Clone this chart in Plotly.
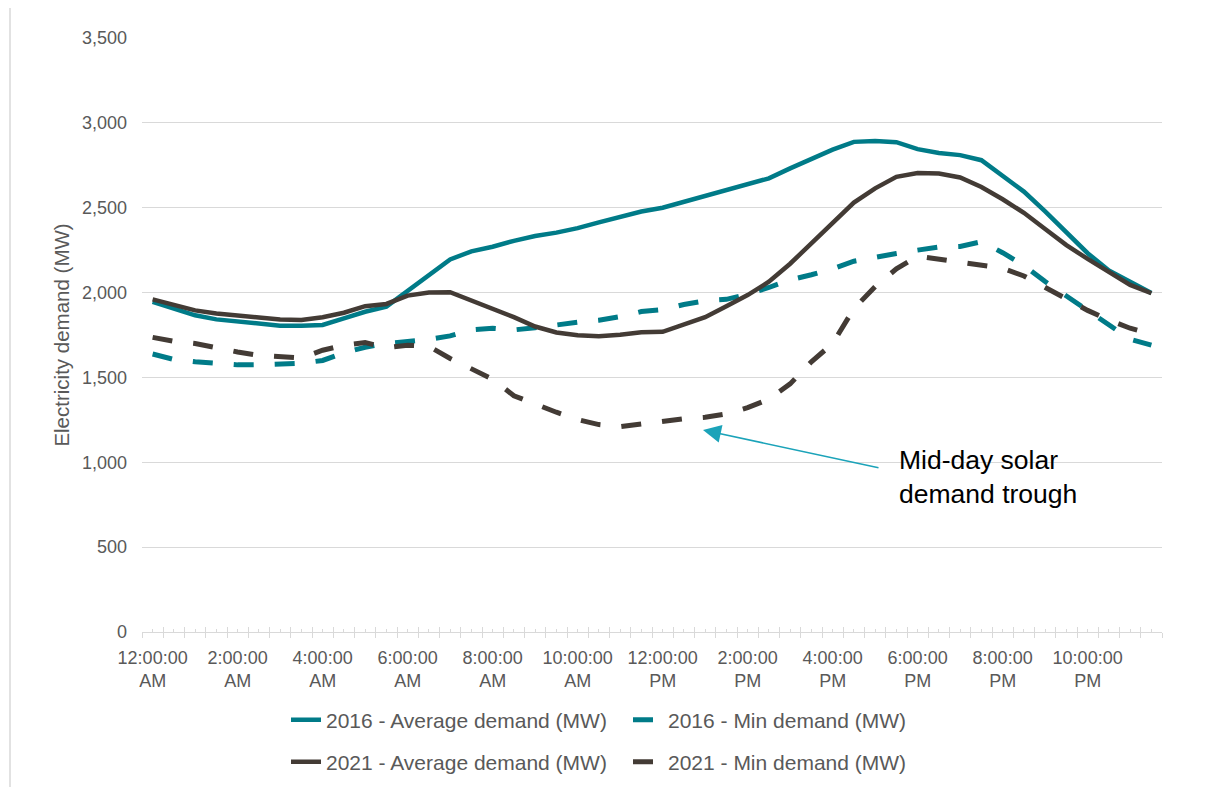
import plotly.graph_objects as go

# Half-hourly categories (48 intervals)
times = [f"{(h % 12) or 12}:{m:02d}:00 {'AM' if h < 12 else 'PM'}" for h in range(24) for m in (0, 30)]

tick_labels = ["12:00:00<br>AM", "2:00:00<br>AM", "4:00:00<br>AM", "6:00:00<br>AM",
               "8:00:00<br>AM", "10:00:00<br>AM", "12:00:00<br>PM", "2:00:00<br>PM",
               "4:00:00<br>PM", "6:00:00<br>PM", "8:00:00<br>PM", "10:00:00<br>PM"]

avg_2016 = [1946, 1904, 1866, 1842, 1828, 1818, 1805, 1805, 1809, 1848, 1887, 1917,
            2010, 2100, 2195, 2243, 2270, 2305, 2333, 2353, 2380, 2414, 2447, 2478,
            2500, 2535, 2565, 2600, 2636, 2673, 2732, 2786, 2842, 2888, 2893, 2886,
            2845, 2822, 2810, 2780, 2690, 2595, 2478, 2352, 2232, 2130, 2063, 1998]

min_2016 = [1638, 1606, 1592, 1582, 1574, 1575, 1582, 1584, 1600, 1645, 1678, 1700,
            1712, 1724, 1745, 1780, 1790, 1780, 1793, 1812, 1825, 1837, 1858, 1888,
            1900, 1930, 1952, 1960, 1990, 2030, 2075, 2105, 2140, 2185, 2210, 2230,
            2250, 2268, 2272, 2300, 2235, 2160, 2065, 1980, 1900, 1810, 1725, 1690]

avg_2021 = [1960, 1925, 1895, 1877, 1862, 1853, 1842, 1838, 1855, 1881, 1920, 1933,
            1982, 2000, 2002, 1955, 1905, 1855, 1800, 1765, 1748, 1742, 1752, 1766,
            1769, 1810, 1855, 1920, 1985, 2064, 2170, 2290, 2410, 2530, 2614, 2682,
            2704, 2702, 2678, 2622, 2550, 2470, 2375, 2280, 2198, 2122, 2045, 1996]

min_2021 = [1736, 1713, 1700, 1672, 1650, 1630, 1625, 1614, 1660, 1690, 1705, 1675,
            1690, 1683, 1612, 1548, 1490, 1392, 1340, 1295, 1252, 1222, 1210, 1228,
            1245, 1257, 1265, 1285, 1322, 1372, 1462, 1592, 1700, 1905, 2035, 2140,
            2215, 2198, 2177, 2160, 2143, 2098, 2030, 1960, 1895, 1838, 1790, 1756]

TEAL = "#007B88"
DARK = "#433B35"
GRID = "#D9D9D9"
TXT = "#595959"
FONT = "Liberation Sans, Arial, sans-serif"

OFF = 8  # page body margin
W, H = 1206 - OFF, 787 - OFF
ML, MT = 142 - OFF, 38 - OFF
MR = W - (1162 - OFF)
MB = H - (632 - OFF)
PW, PH = W - ML - MR, H - MT - MB


def px(sx):  # screen x -> paper
    return (sx - OFF - ML) / PW


def py(sy):  # screen y -> paper
    return (MT + PH - (sy - OFF)) / PH


fig = go.Figure()
fig.add_trace(go.Scatter(x=times, y=avg_2016, mode="lines", name="2016 - Average demand (MW)",
                         line=dict(color=TEAL, width=4.5), legend="legend"))
fig.add_trace(go.Scatter(x=times, y=min_2016, mode="lines", name="2016 - Min demand (MW)",
                         line=dict(color=TEAL, width=5, dash="20px,21px"), legend="legend"))
fig.add_trace(go.Scatter(x=times, y=avg_2021, mode="lines", name="2021 - Average demand (MW)",
                         line=dict(color=DARK, width=4.5), legend="legend2"))
fig.add_trace(go.Scatter(x=times, y=min_2021, mode="lines", name="2021 - Min demand (MW)",
                         line=dict(color=DARK, width=5, dash="20px,21px"), legend="legend2"))
# invisible helpers for tick-mark axes
fig.add_trace(go.Scatter(x=[None], y=[None], xaxis="x2", showlegend=False, hoverinfo="skip"))
fig.add_trace(go.Scatter(x=[None], y=[None], xaxis="x3", showlegend=False, hoverinfo="skip"))

n = len(times)
leg_common = dict(orientation="h", xanchor="left", yanchor="middle",
                  font=dict(size=21, color=TXT), entrywidth=297, entrywidthmode="pixels",
                  bgcolor="rgba(0,0,0,0)")
fig.update_layout(
    width=W, height=H,
    margin=dict(l=ML, r=MR, t=MT, b=MB, autoexpand=False),
    paper_bgcolor="white", plot_bgcolor="white",
    font=dict(family=FONT, color=TXT, size=18),
    xaxis=dict(type="category", range=[-0.5, n - 0.5], tickmode="array",
               tickvals=times[0::4], ticktext=tick_labels, ticks="",
               showgrid=False, showline=True, linecolor=GRID, linewidth=1.3,
               tickfont=dict(size=18, color=TXT), ticklabelstandoff=9),
    xaxis2=dict(overlaying="x", anchor="y", side="bottom", range=[-0.5, n - 0.5],
                tickmode="linear", tick0=-0.5, dtick=1, ticks="outside", ticklen=5,
                tickcolor=GRID, tickwidth=1.3, showticklabels=False, showgrid=False,
                showline=False, zeroline=False),
    xaxis3=dict(overlaying="x", anchor="y", side="bottom", range=[-0.5, n - 0.5],
                tickmode="linear", tick0=-0.5, dtick=1, ticks="inside", ticklen=5,
                tickcolor=GRID, tickwidth=1.3, showticklabels=False, showgrid=False,
                showline=False, zeroline=False,
                minor=dict(tick0=-0.5, dtick=0.5, ticks="inside", ticklen=3,
                           tickcolor=GRID, tickwidth=1.3, showgrid=False)),
    yaxis=dict(range=[0, 3500], dtick=500, tickformat=",", showgrid=True,
               gridcolor=GRID, gridwidth=1.3, zeroline=False, ticks="",
               tickfont=dict(size=18, color=TXT), ticklabelstandoff=14,
               title=dict(text="Electricity demand (MW)", standoff=6,
                          font=dict(size=20.5, color=TXT))),
    legend=dict(x=px(286), y=py(720), **leg_common),
    legend2=dict(x=px(286), y=py(762), **leg_common),
    showlegend=True,
)

# Annotation: arrow and text
fig.add_annotation(x=25.9, y=1190, xref="x", yref="y", ax=177, ay=38, axref="pixel", ayref="pixel",
                   showarrow=True, arrowhead=2, arrowsize=2.4, arrowwidth=1.5,
                   arrowcolor="#1BA3B9", text="")
fig.add_annotation(x=px(897), y=py(477), xref="paper", yref="paper",
                   xanchor="left", yanchor="middle", showarrow=False, align="left",
                   text="Mid-day solar<br>demand trough",
                   font=dict(size=26.5, color="#000000", family=FONT))

# chart border (left edge visible)
fig.add_shape(type="line", xref="paper", yref="paper",
              x0=px(10), x1=px(10), y0=py(787), y1=py(0),
              line=dict(color=GRID, width=1.5))

fig.write_html("out.html")
